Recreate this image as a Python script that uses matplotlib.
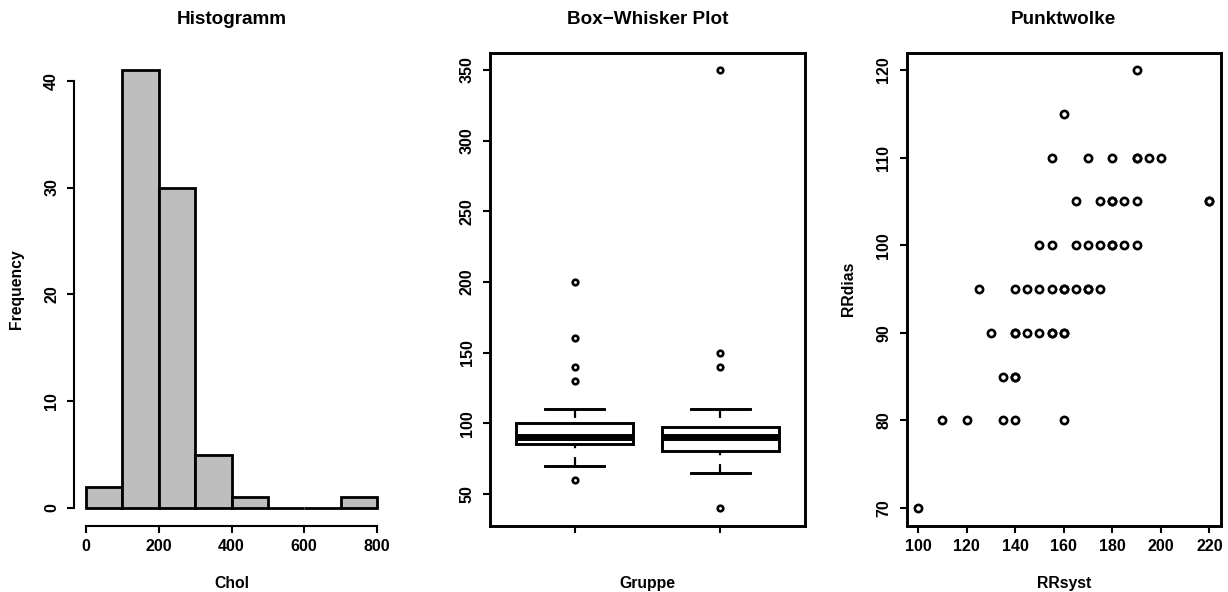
import matplotlib
matplotlib.use("Agg")
import matplotlib.pyplot as plt
import numpy as np

plt.rcParams['font.family'] = ['Liberation Sans', 'DejaVu Sans']
plt.rcParams['font.weight'] = 'bold'

# ---------------- data ----------------
chol_edges = [0, 100, 200, 300, 400, 500, 600, 700, 800]
chol_counts = [2, 41, 30, 5, 1, 0, 0, 1]

box_groups = [1, 2]
box_whislo = [70, 65]
box_q1 = [85, 80]
box_med = [90, 90]
box_q3 = [100, 97.5]
box_whishi = [110, 110]
box_outliers = [[200, 160, 140, 130, 60], [350, 150, 140, 40]]

rr_syst = [190,
           160,
           155, 170, 180, 190, 190, 195, 200,
           165, 175, 180, 180, 185, 190, 220, 220,
           150, 155, 165, 170, 175, 180, 180, 185, 190,
           125, 140, 145, 150, 155, 160, 160, 165, 170, 170, 175,
           130, 140, 140, 145, 150, 155, 155, 160, 160,
           135, 140, 140,
           110, 120, 135, 140, 160,
           100]
rr_dias = [120,
           115,
           110, 110, 110, 110, 110, 110, 110,
           105, 105, 105, 105, 105, 105, 105, 105,
           100, 100, 100, 100, 100, 100, 100, 100, 100,
           95, 95, 95, 95, 95, 95, 95, 95, 95, 95, 95,
           90, 90, 90, 90, 90, 90, 90, 90, 90,
           85, 85, 85,
           80, 80, 80, 80, 80,
           70]

# ---------------- layout ----------------
W, H = 1228, 592
fig = plt.figure(figsize=(W / 100, H / 100), dpi=100)

def add_ax(x0, x1, y0=52.5, y1=525.5):
    return fig.add_axes([x0 / W, 1 - y1 / H, (x1 - x0) / W, (y1 - y0) / H])

ax1 = add_ax(74.4, 388.6)
ax2 = add_ax(490, 805)
ax3 = add_ax(906.5, 1221)

TICK_FS = 11.5
LAB_FS = 11.3
TITLE_FS = 13.6
LW_AX = 1.5
LW_BOX = 2.1

def style(ax):
    ax.tick_params(axis='both', length=5, width=LW_AX, labelsize=TICK_FS, direction='out')
    ax.tick_params(axis='x', pad=5)
    ax.tick_params(axis='y', pad=6)
    for lab in ax.get_yticklabels():
        lab.set_rotation(90)
        lab.set_va('center')
        lab.set_ha('right')

def labels(ax, title, xl, yl, h_px=473, w_px=314.5):
    ax.set_title(title, fontsize=TITLE_FS, fontweight='bold', pad=20.5)
    ax.set_xlabel(xl, fontsize=LAB_FS, fontweight='bold')
    ax.xaxis.set_label_coords(0.5, -58 / h_px)
    ax.xaxis.label.set_va('center')
    ax.set_ylabel(yl, fontsize=LAB_FS, fontweight='bold')
    ax.yaxis.set_label_coords(-58 / w_px, 0.5)
    ax.yaxis.label.set_va('center')

# ---- Histogram ----
ax1.bar(chol_edges[:-1], chol_counts, width=np.diff(chol_edges), align='edge',
        color='#BEBEBE', edgecolor='black', linewidth=2.0)
ax1.set_xlim(-32, 832)
ax1.set_ylim(-1.64, 42.64)
ax1.set_xticks([0, 200, 400, 600, 800])
ax1.set_yticks([0, 10, 20, 30, 40])
for s in ['top', 'right']:
    ax1.spines[s].set_visible(False)
ax1.spines['left'].set_bounds(0, 40)
ax1.spines['bottom'].set_bounds(0, 800)
for s in ['left', 'bottom']:
    ax1.spines[s].set_linewidth(LW_AX)
style(ax1)
labels(ax1, 'Histogramm', 'Chol', 'Frequency')

# ---- Box-Whisker ----
stats = []
for i in range(len(box_groups)):
    stats.append(dict(whislo=box_whislo[i], q1=box_q1[i], med=box_med[i],
                      q3=box_q3[i], whishi=box_whishi[i], fliers=box_outliers[i]))
bp = ax2.bxp(stats, positions=box_groups, widths=0.8, patch_artist=True,
             boxprops=dict(facecolor='white', edgecolor='black', linewidth=LW_BOX),
             medianprops=dict(color='black', linewidth=5.0, solid_capstyle='butt'),
             whiskerprops=dict(color='black', linewidth=1.6, linestyle=(0, (4, 4))),
             capprops=dict(color='black', linewidth=LW_BOX),
             flierprops=dict(marker='o', markersize=4.0, markerfacecolor='white',
                             markeredgecolor='black', markeredgewidth=1.9),
             capwidths=0.4)
for w in bp['whiskers']:
    xd, yd = w.get_data()
    w.set_data(list(xd)[::-1], list(yd)[::-1])
ax2.set_xlim(0.42, 2.58)
ax2.set_ylim(27.6, 362.4)
ax2.set_xticks(box_groups)
ax2.set_xticklabels(['', ''])
ax2.set_yticks([50, 100, 150, 200, 250, 300, 350])
for s in ax2.spines.values():
    s.set_linewidth(LW_BOX)
style(ax2)
labels(ax2, 'Box\u2212Whisker Plot', 'Gruppe', '', w_px=315)

# ---- Scatter ----
ax3.plot(rr_syst, rr_dias, linestyle='none', marker='o', markersize=5.2,
         markerfacecolor='none', markeredgecolor='black', markeredgewidth=1.9)
ax3.set_xlim(95.2, 224.8)
ax3.set_ylim(68, 122)
ax3.set_xticks([100, 120, 140, 160, 180, 200, 220])
ax3.set_yticks([70, 80, 90, 100, 110, 120])
for s in ax3.spines.values():
    s.set_linewidth(LW_BOX)
style(ax3)
labels(ax3, 'Punktwolke', 'RRsyst', 'RRdias')

fig.savefig('out.png', dpi=100)
